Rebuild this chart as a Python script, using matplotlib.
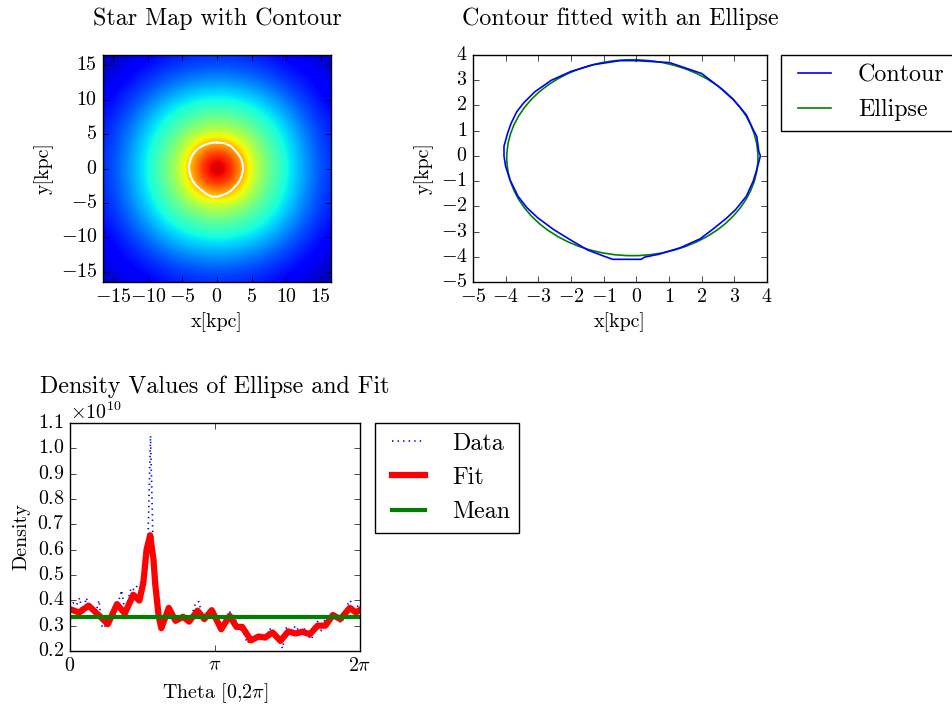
import numpy as np
import matplotlib
matplotlib.use('Agg')
import matplotlib.pyplot as plt
from matplotlib.patches import Ellipse
from matplotlib.lines import Line2D

plt.style.use('classic')
plt.rcParams['figure.facecolor'] = 'white'
plt.rcParams['font.family'] = 'serif'
plt.rcParams['font.serif'] = ['cmr10']
plt.rcParams['font.size'] = 14.4
plt.rcParams['mathtext.fontset'] = 'cm'
plt.rcParams['axes.formatter.use_mathtext'] = True

# star map, coarse grid (jet scale 0..1), rows top (y=16.5) to bottom (y=-16.5)
grid_pos = [-16.5, -13.75, -11, -8.25, -5.5, -2.75, 0, 2.75, 5.5, 8.25, 11, 13.75, 16.5]
star_map = [
    [0.04, 0.06, 0.10, 0.13, 0.15, 0.16, 0.165, 0.16, 0.15, 0.13, 0.10, 0.08, 0.06],
    [0.06, 0.11, 0.15, 0.18, 0.21, 0.23, 0.24, 0.23, 0.21, 0.18, 0.15, 0.12, 0.08],
    [0.10, 0.15, 0.19, 0.25, 0.30, 0.33, 0.34, 0.33, 0.30, 0.25, 0.19, 0.15, 0.10],
    [0.13, 0.18, 0.25, 0.33, 0.39, 0.43, 0.45, 0.43, 0.39, 0.33, 0.25, 0.18, 0.13],
    [0.15, 0.21, 0.30, 0.39, 0.47, 0.54, 0.58, 0.54, 0.47, 0.39, 0.30, 0.21, 0.15],
    [0.16, 0.23, 0.33, 0.43, 0.54, 0.75, 0.84, 0.75, 0.54, 0.43, 0.33, 0.23, 0.16],
    [0.165, 0.24, 0.34, 0.45, 0.58, 0.84, 1.05, 0.84, 0.58, 0.45, 0.34, 0.24, 0.165],
    [0.16, 0.23, 0.33, 0.43, 0.54, 0.75, 0.84, 0.75, 0.54, 0.43, 0.33, 0.23, 0.16],
    [0.15, 0.21, 0.30, 0.39, 0.47, 0.54, 0.58, 0.54, 0.47, 0.39, 0.30, 0.21, 0.15],
    [0.13, 0.18, 0.25, 0.33, 0.39, 0.43, 0.45, 0.43, 0.39, 0.33, 0.25, 0.18, 0.13],
    [0.10, 0.15, 0.19, 0.25, 0.30, 0.33, 0.34, 0.33, 0.30, 0.25, 0.19, 0.15, 0.10],
    [0.08, 0.12, 0.15, 0.18, 0.21, 0.23, 0.24, 0.23, 0.21, 0.18, 0.15, 0.11, 0.06],
    [0.06, 0.08, 0.10, 0.13, 0.15, 0.16, 0.165, 0.16, 0.15, 0.13, 0.10, 0.06, 0.04],
]

# contour
contour_x = [0.0, 1.02, 2.0, 2.55, 2.98, 3.37, 3.58, 3.69, 3.75, 3.8, 3.69, 3.58, 3.37,
             3.04, 2.77, 2.33, 1.95, 1.35, 0.69, 0.26, 0.15, -0.72, -1.0, -1.49, -2.04,
             -2.53, -3.02, -3.35, -3.62, -3.87, -4.0, -4.05, -4.05, -3.94, -3.83, -3.66,
             -3.45, -3.1, -2.6, -2.0, -1.3, -0.5, 0.0]
contour_y = [3.78, 3.70, 3.27, 2.72, 2.22, 1.63, 1.04, 0.77, 0.18, 0.0, -0.54, -1.0, -1.6,
             -2.13, -2.46, -2.92, -3.29, -3.64, -3.9, -4.01, -4.1, -4.1, -3.97, -3.73, -3.31,
             -2.92, -2.45, -2.05, -1.6, -0.94, -0.41, 0.0, 0.38, 0.9, 1.3, 1.75,
             2.1, 2.55, 3.0, 3.35, 3.62, 3.78, 3.78]

ell_center = (-0.12, -0.07)
ell_width = 7.69
ell_height = 7.77

# density along ellipse (units of 1e10)
data_vals = [0.37, 0.39, 0.38, 0.41, 0.34, 0.41, 0.38, 0.37, 0.35, 0.40,
             0.29, 0.30, 0.32, 0.32, 0.35, 0.39, 0.44, 0.36, 0.40, 0.45,
             0.44, 0.46, 0.47, 0.49, 0.53, 1.05, 0.50, 0.36, 0.32, 0.31,
             0.355, 0.38, 0.34, 0.33, 0.34, 0.32, 0.33, 0.31, 0.35, 0.39,
             0.395, 0.34, 0.33, 0.36, 0.36, 0.34, 0.30, 0.30, 0.32, 0.35,
             0.355, 0.33, 0.31, 0.285, 0.27, 0.23, 0.25, 0.245, 0.26, 0.26,
             0.25, 0.26, 0.29, 0.26, 0.25, 0.235, 0.21, 0.29, 0.29, 0.28,
             0.30, 0.28, 0.27, 0.29, 0.26, 0.245, 0.29, 0.32, 0.28, 0.32,
             0.30, 0.35, 0.34, 0.34, 0.31, 0.33, 0.38, 0.40, 0.36, 0.38, 0.37]
fit_theta = [0.0, 0.198, 0.403, 0.638, 0.821, 1.019, 1.188, 1.371, 1.503, 1.59, 1.66,
             1.737, 1.81, 1.847, 1.92, 1.979, 2.141, 2.287, 2.449, 2.581, 2.764, 2.910,
             3.072, 3.277, 3.460, 3.607, 3.731, 3.922, 4.083, 4.230, 4.391, 4.560,
             4.728, 4.890, 5.036, 5.198, 5.366, 5.535, 5.696, 5.857, 6.063, 6.195, 6.283]
fit_vals = [0.365, 0.352, 0.379, 0.339, 0.306, 0.385, 0.348, 0.422, 0.399, 0.47, 0.60,
            0.657, 0.56, 0.465, 0.34, 0.29, 0.37, 0.319, 0.335, 0.316, 0.359, 0.326,
            0.361, 0.286, 0.339, 0.295, 0.295, 0.242, 0.257, 0.253, 0.273, 0.24,
            0.277, 0.269, 0.276, 0.266, 0.30, 0.30, 0.342, 0.326, 0.37, 0.352, 0.362]
mean_val = 0.333

fig = plt.figure(figsize=(9.52, 7.04), dpi=100)

# star map
ax1 = fig.add_axes([0.1082, 0.5994, 0.2395, 0.3224])
half = 1.375
ax1.imshow(star_map, cmap='jet', vmin=0, vmax=1, interpolation='bicubic', origin='upper',
           extent=[grid_pos[0] - half, grid_pos[-1] + half, grid_pos[0] - half, grid_pos[-1] + half])
ax1.plot(contour_x, contour_y, color='white', lw=1.5)
ax1.set_xlim(-16.5, 16.5)
ax1.set_ylim(-16.5, 16.5)
ax1.set_xticks([-15, -10, -5, 0, 5, 10, 15])
ax1.set_yticks([-15, -10, -5, 0, 5, 10, 15])
ax1.set_aspect('auto')
ax1.set_xlabel('x[kpc]')
ax1.set_ylabel('y[kpc]')
ax1.set_title('Star Map with Contour', y=1.1)

# contour with ellipse
ax2 = fig.add_axes([0.4968, 0.5994, 0.3088, 0.3224])
ax2.plot(contour_x, contour_y, color='b', lw=1.2)
ax2.add_patch(Ellipse(ell_center, ell_width, ell_height, fill=False, edgecolor='g', lw=1.2))
ax2.set_xlim(-5, 4)
ax2.set_ylim(-5, 4)
ax2.set_xticks(range(-5, 5))
ax2.set_yticks(range(-5, 5))
ax2.set_xlabel('x[kpc]')
ax2.set_ylabel('y[kpc]')
ax2.set_title('Contour fitted with an Ellipse', y=1.1)
handles = [Line2D([], [], color='b', lw=1.2), Line2D([], [], color='g', lw=1.2)]
ax2.legend(handles, ['Contour', 'Ellipse'], loc='upper left', bbox_to_anchor=(1.048, 1.0),
           borderaxespad=0)

# density values
ax3 = fig.add_axes([0.0735, 0.0753, 0.3046, 0.3239])
data_theta = np.linspace(0, 2 * np.pi, len(data_vals))
ax3.plot(data_theta, np.array(data_vals) * 1e10, 'b:', lw=1.2, label='Data')
ax3.plot(fit_theta, np.array(fit_vals) * 1e10, 'r-', lw=4.5, label='Fit')
ax3.axhline(mean_val * 1e10, color='g', lw=3, label='Mean')
ax3.set_xlim(0, 2 * np.pi)
ax3.set_ylim(0.2e10, 1.1e10)
ax3.set_yticks(np.arange(0.2, 1.15, 0.1) * 1e10)
ax3.set_xticks([0, np.pi, 2 * np.pi])
ax3.set_xticklabels(['$0$', r'$\pi$', r'$2\pi$'])
ax3.set_xlabel(r'Theta [0,2$\pi$]')
ax3.set_ylabel('Density')
ax3.set_title('Density Values of Ellipse and Fit', y=1.1)
ax3.legend(loc='upper left', bbox_to_anchor=(1.052, 1.0), borderaxespad=0)

plt.savefig('out.png', dpi=100)
